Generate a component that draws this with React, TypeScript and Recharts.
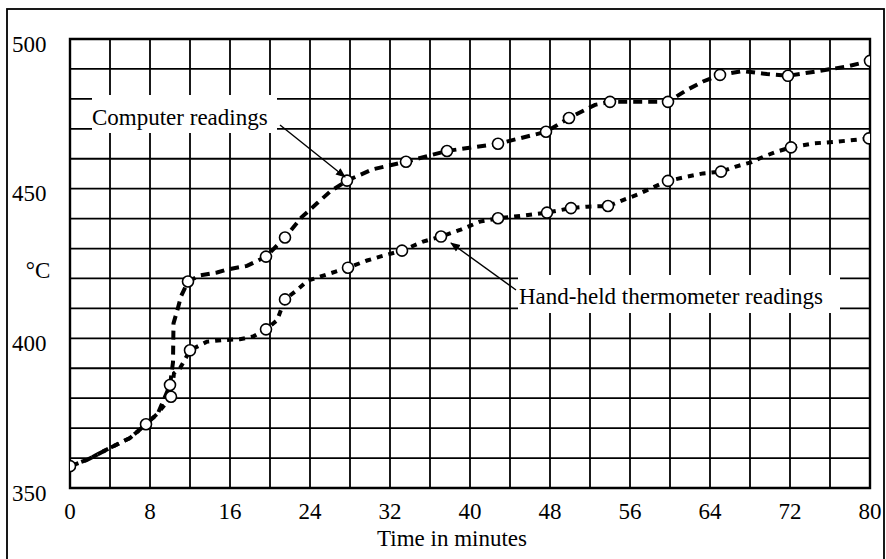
import { ComposedChart, Line, Scatter, XAxis, YAxis, CartesianGrid, ReferenceArea } from 'recharts'

// computer readings (upper curve), minutes / °C
const computerMinutes = [0, 1.7, 4, 6, 7.6, 8.8, 10, 10.3, 10.35, 10.7, 11.1, 11.8, 13, 14.7, 15.7, 17.7, 19.6, 21.5, 23.2, 24.7, 26, 27.7, 29, 30.3, 33.6, 37.7, 42.8, 47.6, 49.9, 52.5, 54, 57, 59.8, 61.7, 63.3, 65, 67.3, 69.7, 71.8, 74.3, 77.7, 80]
const computerTemps = [357.3, 359.4, 363.4, 366.7, 371.3, 375, 384.4, 392, 405, 409, 414, 419, 421, 422, 423, 424.2, 427.3, 433.7, 440.6, 445.1, 449, 452.7, 454.6, 456.5, 459, 462.6, 465, 469, 473.6, 478, 479, 479, 479, 483, 485.8, 488, 489.3, 488.3, 487.7, 489, 490.8, 492.7]
const computerMarkMinutes = [0, 7.6, 10, 11.8, 19.6, 21.5, 27.7, 33.6, 37.7, 42.8, 47.6, 49.9, 54, 59.8, 65, 71.8, 80]
const computerMarkTemps = [357.3, 371.3, 384.4, 419, 427.3, 433.7, 452.7, 459, 462.6, 465, 469, 473.6, 479, 479, 488, 487.7, 492.7]

// hand-held thermometer readings (lower curve)
const handMinutes = [0, 1.7, 4, 6, 7.6, 8.8, 10.1, 10.4, 11, 12, 13.7, 15.3, 17, 18.3, 19.6, 20.7, 21.5, 22.5, 23.8, 25, 27.8, 29.7, 31, 33.2, 35.3, 37.1, 39, 41, 42.8, 45, 47.7, 50.1, 51.7, 53.8, 55.3, 56.8, 58.2, 59.8, 61.7, 63.3, 65.1, 66.5, 68.1, 69.5, 70.7, 72.1, 74.3, 76.7, 79.9]
const handTemps = [357.3, 359.4, 363.4, 366.7, 371.3, 375, 380.5, 388.3, 390, 396, 398.9, 399.4, 399.7, 400.6, 403, 406, 413, 415.6, 419.3, 420.6, 423.6, 426, 427.3, 429.3, 432.3, 434, 436.2, 439, 440.1, 440.9, 442, 443.5, 444, 444.2, 446.2, 448.1, 450.3, 452.6, 454, 455.1, 455.7, 457.3, 458.8, 460.9, 462.4, 463.8, 465.1, 465.7, 466.8]
const handMarkMinutes = [10.1, 12, 19.6, 21.5, 27.8, 33.2, 37.1, 42.8, 47.7, 50.1, 53.8, 59.8, 65.1, 72.1, 79.9]
const handMarkTemps = [380.5, 396, 403, 413, 423.6, 429.3, 434, 440.1, 442, 443.5, 444.2, 452.6, 455.7, 463.8, 466.8]

const xTicks = [0, 4, 8, 12, 16, 20, 24, 28, 32, 36, 40, 44, 48, 52, 56, 60, 64, 68, 72, 76, 80]
const xLabels = [0, 8, 16, 24, 32, 40, 48, 56, 64, 72, 80]
const yTicks = [350, 360, 370, 380, 390, 400, 410, 420, 430, 440, 450, 460, 470, 480, 490, 500]
const yLabels = [350, 400, 450, 500]

const zip = (xs: number[], ys: number[]) => xs.map((x, i) => ({ x, y: ys[i] }))

const computerData = zip(computerMinutes, computerTemps)
const computerMarks = zip(computerMarkMinutes, computerMarkTemps)
const handData = zip(handMinutes, handTemps)
const handMarks = zip(handMarkMinutes, handMarkTemps)

const FONT = "'Liberation Serif', 'Times New Roman', serif"
const FS = 23

const XTick = (props: any) => {
  const v = props.payload.value
  if (!xLabels.includes(v)) return null
  return (
    <text x={props.x} y={511} textAnchor="middle" dominantBaseline="central" fontFamily={FONT} fontSize={FS} fill="#000">
      {v}
    </text>
  )
}

const YTick = (props: any) => {
  const v = props.payload.value
  if (!yLabels.includes(v)) return null
  return (
    <text x={12} y={props.y + 5} textAnchor="start" dominantBaseline="central" fontFamily={FONT} fontSize={FS} fill="#000">
      {v}
    </text>
  )
}

const Ring = (props: any) => (
  <circle cx={props.cx} cy={props.cy} r={5.5} fill="#fff" stroke="#000" strokeWidth={1.6} />
)

export default function App() {
  return (
    <div style={{ position: 'absolute', left: 0, top: 0, width: 886, height: 559, background: '#fff', overflow: 'hidden' }}>
      <ComposedChart width={886} height={559} margin={{ top: 39, right: 16, bottom: 0, left: 0 }}>
        <CartesianGrid stroke="#000" strokeWidth={1.8} horizontal vertical />
        <XAxis type="number" dataKey="x" domain={[0, 80]} ticks={xTicks} height={71} axisLine={false} tickLine={false} tick={<XTick />} interval={0} allowDataOverflow />
        <YAxis type="number" domain={[350, 500]} ticks={yTicks} width={70} axisLine={false} tickLine={false} tick={<YTick />} interval={0} allowDataOverflow />
        <ReferenceArea x1={0} x2={80} y1={350} y2={500} fill="none" stroke="#000" strokeWidth={2.4} ifOverflow="visible" />
        <Line data={computerData} dataKey="y" type="linear" stroke="#000" strokeWidth={4} strokeDasharray="9 6" dot={false} isAnimationActive={false} />
        <Line data={handData} dataKey="y" type="linear" stroke="#000" strokeWidth={4} strokeDasharray="6 6" dot={false} isAnimationActive={false} />
        <Scatter data={computerMarks} dataKey="y" shape={<Ring />} isAnimationActive={false} />
        <Scatter data={handMarks} dataKey="y" shape={<Ring />} isAnimationActive={false} />
      </ComposedChart>
      <svg width={886} height={559} style={{ position: 'absolute', left: 0, top: 0, pointerEvents: 'none' }}>
        <defs>
          <marker id="head" viewBox="0 0 10 10" refX="9" refY="5" markerWidth="10" markerHeight="10" orient="auto-start-reverse" markerUnits="userSpaceOnUse">
            <path d="M0,1 L10,5 L0,9 z" fill="#000" />
          </marker>
        </defs>
        <rect x={7} y={9} width={877} height={570} fill="none" stroke="#000" strokeWidth={1.8} />
        <rect x={92} y={95} width={185} height={38} fill="#fff" />
        <text x={92} y={117} dominantBaseline="central" fontFamily={FONT} fontSize={FS} fill="#000">Computer readings</text>
        <line x1={280} y1={125} x2={345} y2={177} stroke="#000" strokeWidth={1.4} markerEnd="url(#head)" />
        <rect x={518} y={275} width={322} height={38} fill="#fff" />
        <text x={519} y={296} dominantBaseline="central" fontFamily={FONT} fontSize={FS} fill="#000">Hand-held thermometer readings</text>
        <line x1={516} y1={290} x2={451} y2={243} stroke="#000" strokeWidth={1.4} markerEnd="url(#head)" />
        <text x={38} y={270} textAnchor="middle" dominantBaseline="central" fontFamily={FONT} fontSize={FS} fill="#000">°C</text>
        <text x={452} y={538} textAnchor="middle" dominantBaseline="central" fontFamily={FONT} fontSize={FS} fill="#000">Time in minutes</text>
      </svg>
    </div>
  )
}
